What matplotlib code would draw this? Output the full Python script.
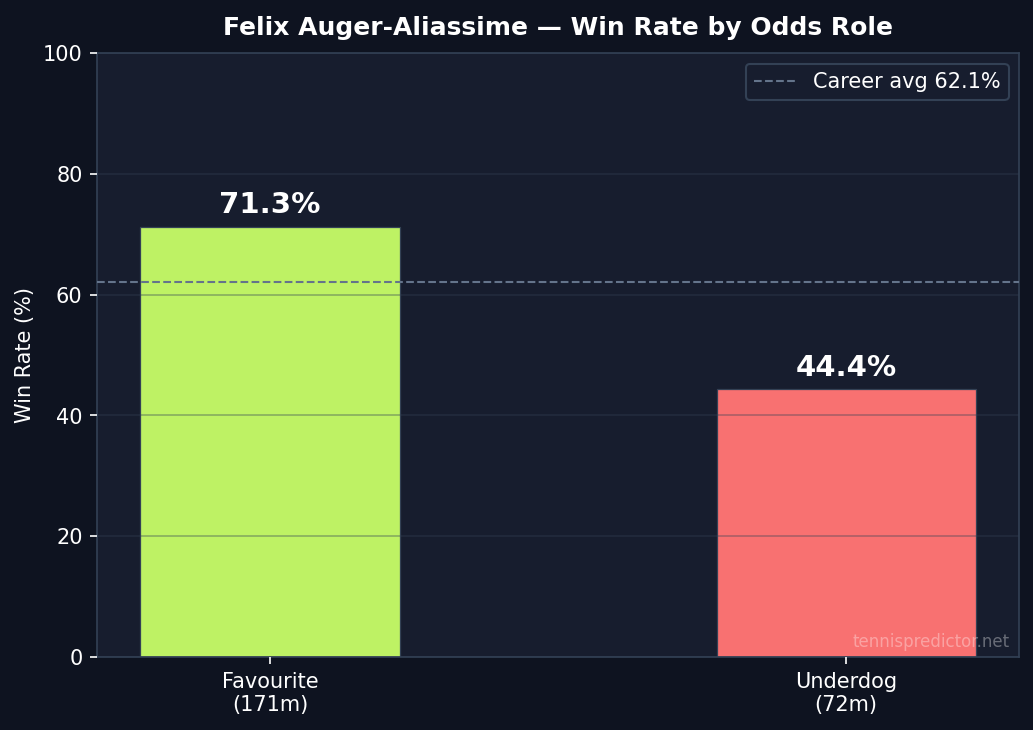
import matplotlib
matplotlib.use("Agg")
import matplotlib.pyplot as plt

# данные
roles = ["Favourite", "Underdog"]
matches = [171, 72]
win_rates = [71.3, 44.4]
career_avg = 62.1
bar_colors = ["#bef264", "#f87171"]

fig_bg = "#0e1320"
ax_bg = "#171d2e"
spine_c = "#334155"

fig, ax = plt.subplots(figsize=(6.893, 4.867), dpi=150)
fig.patch.set_facecolor(fig_bg)
ax.set_facecolor(ax_bg)
fig.subplots_adjust(left=0.094, right=0.9855, top=0.927, bottom=0.1)

x = list(range(len(roles)))
bars = ax.bar(x, win_rates, width=0.45, color=bar_colors,
              edgecolor=spine_c, linewidth=0.6, zorder=2)

for bar, value in zip(bars, win_rates):
    ax.text(bar.get_x() + bar.get_width() / 2, bar.get_height() + 1.2,
            f"{value:.1f}%", ha="center", va="bottom",
            fontsize=14, fontweight="bold", color="white", zorder=4)

ax.axhline(career_avg, color="#64748b", linestyle="--", linewidth=1,
           label=f"Career avg {career_avg}%", zorder=3)

ax.set_xlim(-0.3, 1.3)
ax.set_ylim(0, 100)
ax.set_xticks(x)
ax.set_xticklabels([f"{r}\n({m}m)" for r, m in zip(roles, matches)])
ax.set_ylabel("Win Rate (%)", color="white", fontsize=10)
ax.set_title("Felix Auger-Aliassime — Win Rate by Odds Role",
             color="white", fontsize=12, fontweight="bold", pad=9)

ax.tick_params(colors="white", labelsize=10)
for s in ax.spines.values():
    s.set_color(spine_c)

ax.set_axisbelow(False)
ax.grid(axis="y", color=spine_c, alpha=0.4, linewidth=0.8, zorder=2.5)

leg = ax.legend(loc="upper right", fontsize=10, facecolor=ax_bg,
                edgecolor=spine_c, labelcolor="white", framealpha=1)

ax.text(0.99, 0.01, "tennispredictor.net", transform=ax.transAxes,
        ha="right", va="bottom", fontsize=8, color="white", alpha=0.35,
        zorder=5)

plt.savefig("out.png", dpi=150, facecolor=fig.get_facecolor())
plt.close()
